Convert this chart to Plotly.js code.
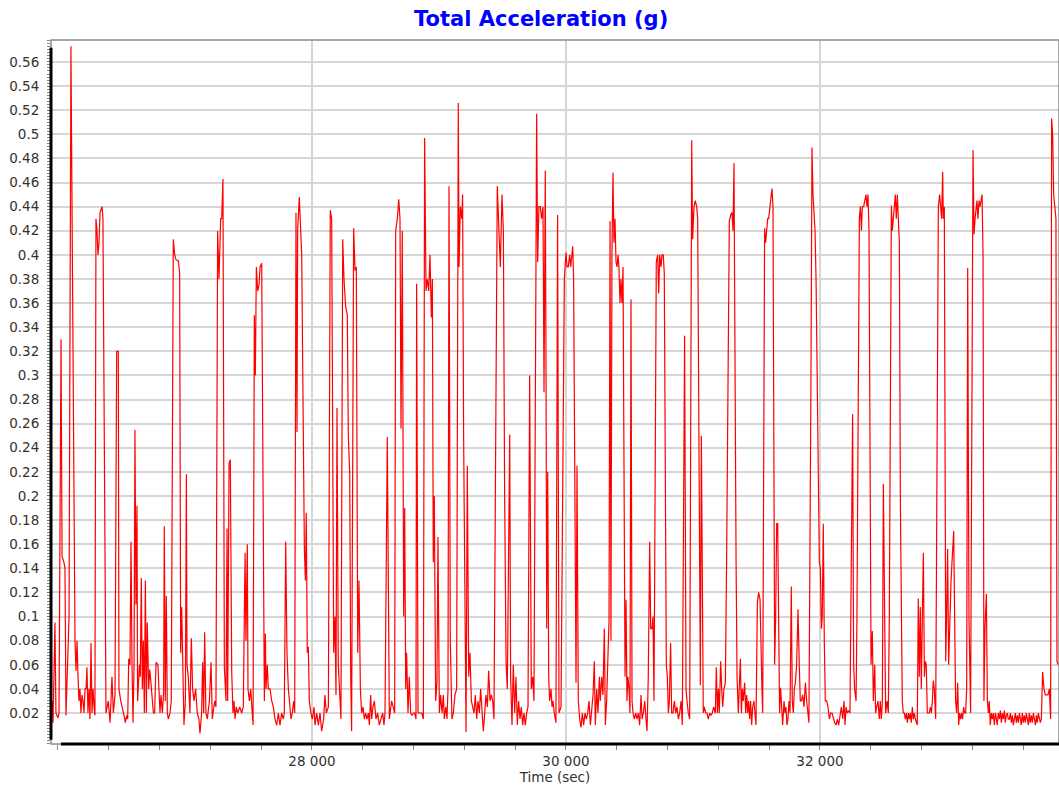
<!DOCTYPE html>
<html>
<head>
<meta charset="utf-8">
<script src="https://cdn.plot.ly/plotly-3.0.1.min.js"></script>
<style>html,body{margin:0;padding:0;background:#fff;}#chart{width:1059px;height:791px;}</style>
</head>
<body>
<div id="chart"></div>
<script>
// Time (sec) of each sample
const timeSec = [
25953,25961,25976,25984,26000,26008,26024,26032,26047,26055,26063,26071,26079,26087,26102,26118,26134,26142,26150,26158,26165,26173,26181,26189,26197,26205,26213,26221,26228,26236,26244,26252,26260,26268,26276,26284,26291,26299,26307,26315,26323,26331,26347,26354,26378,
26396,26410,26425,26436,26449,26462,26475,26480,26494,26507,26520,26530,26541,26549,26557,26567,26575,26583,26591,26599,26606,26614,26622,26627,26641,26648,26656,26664,26672,26680,26688,26696,26703,26714,26722,
26732,26740,26751,26761,26772,26787,26795,26803,26811,26822,26832,26837,26845,26853,26861,26869,26882,26892,26908,26919,26929,26948,26958,26966,26974,26982,26992,27003,27011,27016,27026,27039,27050,27060,27071,27084,27097,27110,
27118,27131,27139,27147,27155,27165,27176,27192,27205,27215,27223,27234,27244,
27257,27268,27281,27289,27299,27310,27323,27331,27336,27347,27357,27368,27378,27386,27394,27404,27415,27431,27446,27459,27473,27480,27491,27496,27507,
27517,27528,27536,27546,27554,27562,27572,27583,27591,27604,27625,27633,27638,27648,27656,27669,27683,27696,27709,27722,27735,27748,27761,27774,27782,27793,27803,27814,27824,27835,27845,27856,27864,27874,27882,27887,27900,
27908,27919,27940,27948,27955,27963,27971,27979,27992,28003,28016,28024,28037,28050,28063,28076,28092,28102,28113,28129,28144,28155,28171,28181,28189,28197,28207,28221,28228,28242,28252,28265,28278,28286,28297,
28305,28312,28328,28339,28349,28360,28370,28381,28391,28402,28412,28423,28433,28444,28452,28462,28470,28480,28491,28504,28517,28530,28543,28557,
28567,28575,28593,28609,28627,28641,28651,28659,28672,28683,
28693,28701,28711,28722,28730,28738,28745,28756,28766,28777,28787,28798,28808,28819,28824,28835,28850,28864,28877,28887,28898,28908,28919,28929,28940,28948,28955,28963,28974,28984,28992,29003,29013,29024,29034,29042,29053,29063,29071,29079,
29089,29095,29102,29113,29126,29139,29152,29158,29168,29179,29186,29194,29207,29213,29223,29234,29244,29255,29265,29276,29286,29297,29307,29318,29328,29339,29349,29360,29370,29381,29391,29402,29412,29423,29433,29459,29470,
29483,29496,29507,29517,29528,29538,29549,29557,29564,29575,29585,29596,29606,29617,29627,29638,29648,29659,29669,29680,29690,29701,29714,29727,29738,29748,29769,29777,29787,29798,29808,29819,29827,29837,
29843,29848,29856,29864,29871,
29882,29890,29898,29908,29921,29934,29945,29961,29987,30000,30008,30018,30029,30037,30045,30053,30060,30079,30087,30097,30108,30118,30129,30139,30150,30160,30171,30181,30192,30202,30213,30223,30231,30242,30252,30263,
30270,30281,30291,30302,30310,30320,30331,30339,30347,30354,30362,30370,30378,30386,30394,30402,30410,30417,30425,30433,30441,30449,30465,30473,30480,30488,30496,30504,30512,30520,30528,30538,30549,30559,30570,30580,30591,30599,30609,30620,30630,30638,30648,30659,
30667,30677,30685,30693,30711,30722,30730,30738,30748,30756,30766,30774,30790,30798,30806,30814,30824,30832,30843,30853,30864,30874,30885,30895,30906,30916,30934,30945,30953,30963,30974,30990,30997,31008,31018,31029,31037,
31058,31066,31081,31089,31100,31110,31121,31131,31142,31152,31163,
31176,31184,31192,31200,31207,31218,31226,31234,31244,31255,31265,31286,31297,31307,31315,31323,31339,31347,31357,31365,31373,31381,31389,31396,31407,31415,31423,31431,31438,31446,
31454,31462,31470,31480,31488,31496,31507,31517,31528,31536,31543,31549,31564,31572,31580,31588,31596,31606,31614,31622,31630,31643,31651,31659,31667,31675,31682,31690,31698,31706,31717,31724,31732,31740,31748,31756,31764,31774,31782,31790,31798,31806,31816,31827,31837,
31845,31853,31864,31874,31885,31895,31906,31913,31929,31937,31945,31953,31961,31969,31979,31987,31995,32003,32011,32018,32026,32034,32042,32053,32063,32074,32084,32095,32105,32116,32126,32137,32147,32158,32168,32179,32189,32197,32205,32215,32226,
32236,32257,32265,32273,32284,32291,32310,32318,32326,32333,32344,32354,32362,32370,32378,32386,32402,32412,32420,32431,32438,32446,32457,32467,
32475,32483,32491,32499,32507,32517,32528,32538,32546,32562,32570,32578,32585,32593,32601,32609,32617,32625,
32633,32640,32648,32656,32664,32672,32680,32688,32696,32703,32711,32719,32727,32735,32743,32751,32759,32766,32774,32782,32790,32798,32806,32814,32822,32829,32837,32845,32853,32861,32869,32877,32885,32892,32900,32911,32932,32942,32950,32958,32966,32971,32979,32990,32997,33005,33013,33021,
33032,33042,33053,33060,33068,33076,33084,33092,33100,33108,33116,33123,33131,33139,33147,33155,33163,33173,33186,33205,33213,33221,33228,33236,33244,33252,33260,33268,33276,33284,33291,33299,33310,33318,33326,33333,33341,33349,33357,33365,33373,33381,33389,33396,33404,33412,
33420,33428,33436,33444,33452,33459,33467,33475,33483,33491,33499,33507,33515,33522,33530,33538,33546,33554,33562,33570,33578,33585,33593,33601,33609,33617,33625,33633,33641,33648,33656,33664,33672,33680,33688,33696,33704,33711,33719,33727,33735,33743,33753,33764,33774,33785,33795,33806,
33816,33824,33832,33840,33850,33858,33866,33874
];

// Total acceleration (g) of each sample
const totalAccel = [
0.03,0.012,0.095,0.02,0.016,0.02,0.33,0.15,0.145,0.14,0.018,0.05,0.06,0.1,0.573,0.3,0.08,0.055,0.08,0.05,0.03,0.04,0.02,0.035,0.03,0.02,0.04,0.04,0.058,0.02,0.04,0.015,0.078,0.02,0.04,0.025,0.018,0.43,0.42,0.40,0.41,0.435,0.44,0.43,0.02,
0.03,0.012,0.05,0.02,0.035,0.32,0.32,0.04,0.03,0.025,0.018,0.012,0.018,0.015,0.065,0.06,0.162,0.06,0.012,0.06,0.255,0.11,0.192,0.03,0.06,0.05,0.132,0.04,0.08,0.02,0.13,0.02,0.095,0.04,0.056,
0.045,0.03,0.02,0.02,0.062,0.06,0.035,0.02,0.035,0.02,0.038,0.175,0.03,0.117,0.02,0.015,0.02,0.03,0.413,0.40,0.396,0.395,0.385,0.07,0.108,0.05,0.01,0.03,0.218,0.06,0.05,0.02,0.082,0.04,0.03,0.04,0.02,0.015,
0.003,0.02,0.062,0.02,0.087,0.02,0.015,0.03,0.062,0.015,0.02,0.03,0.025,
0.42,0.38,0.43,0.43,0.463,0.058,0.03,0.173,0.03,0.227,0.23,0.054,0.02,0.03,0.015,0.025,0.02,0.025,0.02,0.025,0.153,0.08,0.16,0.04,0.03,
0.04,0.025,0.01,0.35,0.30,0.39,0.37,0.375,0.39,0.393,0.03,0.086,0.04,0.06,0.04,0.04,0.03,0.025,0.015,0.01,0.02,0.01,0.02,0.015,0.02,0.162,0.07,0.04,0.03,0.015,0.02,0.03,0.02,0.435,0.253,0.42,0.448,
0.43,0.40,0.156,0.13,0.186,0.07,0.075,0.03,0.02,0.015,0.025,0.01,0.02,0.01,0.02,0.005,0.015,0.035,0.02,0.025,0.437,0.43,0.07,0.10,0.035,0.273,0.06,0.02,0.015,0.413,0.38,0.357,0.35,0.25,0.22,
0.05,0.005,0.422,0.387,0.39,0.07,0.13,0.04,0.02,0.025,0.015,0.02,0.015,0.02,0.01,0.035,0.015,0.025,0.03,0.015,0.02,0.01,0.015,0.02,
0.01,0.02,0.249,0.015,0.03,0.025,0.02,0.42,0.43,0.446,
0.43,0.256,0.42,0.10,0.19,0.04,0.07,0.02,0.05,0.02,0.018,0.02,0.02,0.015,0.376,0.02,0.02,0.02,0.015,0.497,0.37,0.38,0.37,0.40,0.348,0.38,0.145,0.20,0.03,0.045,0.166,0.02,0.035,0.02,0.035,0.015,0.025,0.015,0.04,0.457,
0.08,0.03,0.015,0.02,0.035,0.04,0.526,0.39,0.44,0.43,0.45,0.25,0.02,0.004,0.225,0.05,0.07,0.03,0.025,0.02,0.035,0.015,0.03,0.02,0.04,0.025,0.005,0.02,0.035,0.025,0.055,0.03,0.035,0.03,0.015,0.457,0.42,
0.39,0.45,0.42,0.20,0.063,0.04,0.15,0.251,0.05,0.01,0.06,0.02,0.05,0.01,0.03,0.015,0.025,0.01,0.02,0.01,0.02,0.025,0.30,0.04,0.05,0.03,0.517,0.394,0.44,0.44,0.43,0.44,0.286,0.47,
0.30,0.09,0.22,0.05,0.03,
0.04,0.025,0.03,0.02,0.012,0.433,0.02,0.025,0.38,0.402,0.39,0.39,0.40,0.39,0.40,0.407,0.38,0.045,0.225,0.03,0.015,0.008,0.02,0.01,0.02,0.015,0.02,0.03,0.01,0.025,0.035,0.063,0.01,0.04,0.02,0.05,
0.03,0.05,0.035,0.09,0.01,0.03,0.07,0.097,0.428,0.08,0.40,0.468,0.41,0.43,0.394,0.39,0.40,0.39,0.36,0.38,0.36,0.39,0.05,0.114,0.03,0.05,0.04,0.02,0.363,0.03,0.02,0.015,0.02,0.015,0.02,0.01,0.035,0.015,0.02,0.03,0.015,0.005,0.05,0.162,
0.09,0.09,0.10,0.03,0.394,0.40,0.368,0.40,0.39,0.40,0.40,0.385,0.06,0.05,0.02,0.03,0.078,0.02,0.02,0.03,0.02,0.025,0.015,0.02,0.03,0.01,0.333,0.04,0.03,0.02,0.015,0.495,0.413,0.44,0.445,0.44,0.43,
0.043,0.25,0.02,0.025,0.02,0.02,0.015,0.02,0.018,0.02,0.025,
0.02,0.058,0.02,0.04,0.02,0.063,0.04,0.025,0.04,0.045,0.15,0.428,0.433,0.435,0.42,0.476,0.15,0.05,0.02,0.04,0.065,0.02,0.04,0.03,0.045,0.02,0.035,0.02,0.03,0.015,
0.03,0.01,0.025,0.03,0.015,0.01,0.112,0.12,0.114,0.05,0.04,0.02,0.422,0.41,0.42,0.43,0.43,0.44,0.45,0.455,0.44,0.06,0.10,0.177,0.177,0.04,0.02,0.041,0.02,0.01,0.03,0.02,0.025,0.01,0.015,0.03,0.02,0.125,0.03,0.02,0.04,0.045,0.06,0.106,0.06,
0.03,0.03,0.035,0.025,0.045,0.03,0.02,0.012,0.30,0.489,0.45,0.437,0.42,0.38,0.30,0.20,0.145,0.14,0.09,0.10,0.177,0.08,0.03,0.03,0.025,0.015,0.02,0.02,0.015,0.012,0.01,0.015,0.01,0.02,0.025,0.015,0.03,0.01,0.025,0.02,0.022,
0.02,0.268,0.06,0.04,0.03,0.10,0.43,0.44,0.42,0.44,0.44,0.446,0.45,0.44,0.45,0.42,0.06,0.088,0.03,0.06,0.02,0.025,0.03,0.015,
0.03,0.015,0.03,0.21,0.10,0.02,0.03,0.02,0.10,0.441,0.42,0.43,0.44,0.45,0.43,0.45,0.43,0.41,
0.195,0.093,0.03,0.02,0.02,0.015,0.02,0.012,0.02,0.015,0.02,0.012,0.025,0.015,0.02,0.015,0.012,0.01,0.115,0.05,0.108,0.04,0.10,0.153,0.05,0.063,0.06,0.02,0.02,0.02,0.025,0.02,0.03,0.047,0.04,0.015,0.44,0.45,0.44,0.43,0.469,0.43,0.44,0.063,0.10,0.156,0.06,0.10,
0.13,0.15,0.171,0.10,0.03,0.02,0.045,0.01,0.02,0.015,0.02,0.015,0.025,0.02,0.02,0.04,0.389,0.10,0.02,0.487,0.417,0.43,0.44,0.445,0.43,0.445,0.44,0.445,0.45,0.40,0.03,0.09,0.119,0.03,0.02,0.03,0.01,0.02,0.015,0.02,0.01,0.02,0.015,0.01,0.02,0.015,
0.022,0.012,0.02,0.015,0.022,0.012,0.018,0.02,0.015,0.015,0.02,0.012,0.018,0.01,0.015,0.02,0.012,0.018,0.012,0.02,0.015,0.01,0.02,0.012,0.018,0.012,0.02,0.015,0.01,0.02,0.012,0.018,0.012,0.02,0.015,0.01,0.018,0.012,0.02,0.015,0.012,0.015,0.054,0.04,0.035,0.035,0.035,0.04,
0.015,0.513,0.50,0.45,0.44,0.43,0.063,0.06
];

// Axis tick values and labels
const yTickVals = [0.02,0.04,0.06,0.08,0.1,0.12,0.14,0.16,0.18,0.2,0.22,0.24,0.26,0.28,0.3,0.32,0.34,0.36,0.38,0.4,0.42,0.44,0.46,0.48,0.5,0.52,0.54,0.56];
const yTickText = ["0.02","0.04","0.06","0.08","0.1","0.12","0.14","0.16","0.18","0.2","0.22","0.24","0.26","0.28","0.3","0.32","0.34","0.36","0.38","0.4","0.42","0.44","0.46","0.48","0.5","0.52","0.54","0.56"];
const xTickVals = [28000, 30000, 32000];
const xTickText = ["28 000", "30 000", "32 000"];

const FONT = "DejaVu Sans, Verdana, sans-serif";

const trace = {
  type: "scatter",
  mode: "lines",
  x: timeSec,
  y: totalAccel,
  line: {color: "rgb(255,0,0)", width: 1.2},
  hoverinfo: "skip"
};

const layout = {
  width: 1059,
  height: 791,
  margin: {l: 51, r: 0, t: 40, b: 47, pad: 0},
  paper_bgcolor: "#ffffff",
  plot_bgcolor: "#ffffff",
  showlegend: false,
  font: {family: FONT, color: "#333333", size: 13.5},
  title: {
    text: "<b>Total Acceleration (g)</b>",
    font: {family: FONT, size: 21, color: "#0000ff"},
    xref: "container", yref: "container",
    x: 0.511, xanchor: "center",
    y: 0.976, yanchor: "middle"
  },
  xaxis: {
    range: [25945, 33882],
    tickmode: "array",
    tickvals: xTickVals,
    ticktext: xTickText,
    ticks: "outside",
    ticklen: 5,
    tickwidth: 1,
    tickcolor: "#888888",
    showgrid: true,
    gridcolor: "#d6d6d6",
    gridwidth: 2,
    zeroline: false,
    showline: false,
    tickfont: {family: FONT, size: 13.5, color: "#333333"},
    minor: {dtick: 400, tick0: 0, ticks: "outside", ticklen: 5, tickcolor: "#888888", showgrid: false},
    title: {text: "Time (sec)", font: {family: FONT, size: 13.5, color: "#333333"}, standoff: 4}
  },
  yaxis: {
    range: [-0.0057, 0.5782],
    tickmode: "array",
    tickvals: yTickVals,
    ticktext: yTickText,
    ticks: "outside",
    ticklen: 3,
    tickwidth: 1,
    tickcolor: "#777777",
    ticklabelstandoff: 5,
    showgrid: true,
    gridcolor: "#d6d6d6",
    gridwidth: 2,
    zeroline: false,
    showline: false,
    tickfont: {family: FONT, size: 13.5, color: "#333333"},
    minor: {dtick: 0.0025, tick0: 0, ticks: "outside", ticklen: 3, tickcolor: "#888888", showgrid: false}
  },
  shapes: [
    {type: "rect", xref: "paper", yref: "paper", x0: 0, x1: 1, y0: 0, y1: 1,
     line: {color: "#8c8c8c", width: 1.5}, layer: "above"},
    {type: "line", xref: "paper", yref: "paper", x0: 0.0099, x1: 1, y0: 0, y1: 0,
     line: {color: "#000000", width: 3}, layer: "above"},
    {type: "line", xref: "paper", yref: "paper", x0: 0, x1: 0, y0: 0.006, y1: 0.989,
     line: {color: "#000000", width: 3}, layer: "above"}
  ]
};

Plotly.newPlot("chart", [trace], layout, {displayModeBar: false, staticPlot: true});
</script>
</body>
</html>
